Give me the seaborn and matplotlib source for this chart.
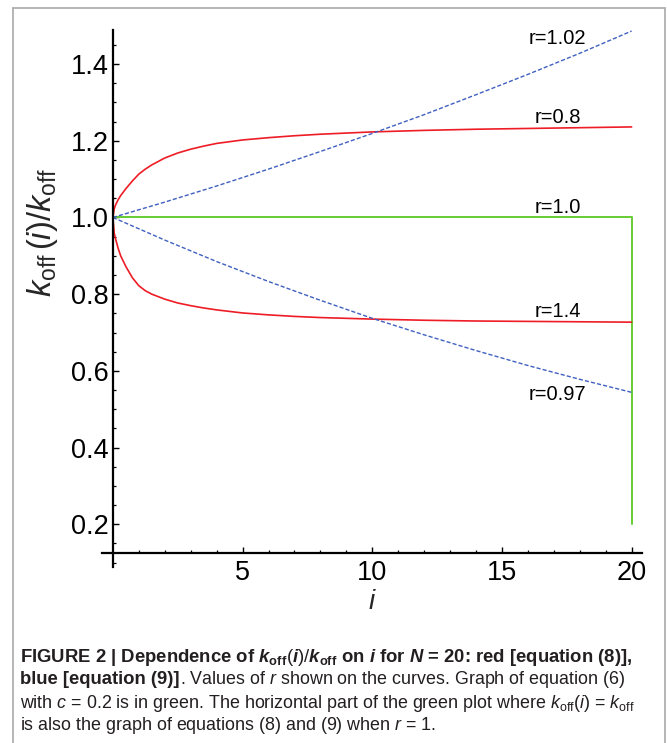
import numpy as np
import pandas as pd
import matplotlib
matplotlib.use('Agg')
import matplotlib.pyplot as plt
from matplotlib.ticker import MultipleLocator, FixedLocator
from matplotlib.lines import Line2D
import seaborn as sns

# curve values (N = 20)
i_blue = [0, 2, 4, 6, 8, 10, 12, 14, 16, 18, 20]
blue_102 = [1.0, 1.040, 1.082, 1.126, 1.172, 1.219, 1.268, 1.320, 1.373, 1.428, 1.486]
blue_097 = [1.0, 0.941, 0.885, 0.833, 0.784, 0.737, 0.694, 0.653, 0.614, 0.578, 0.544]

i_red = [0, 0.05, 0.1, 0.2, 0.3, 0.5, 0.75, 1, 1.25, 1.5, 2, 2.5, 3, 3.5, 4, 5, 6,
         7, 8, 10, 12, 14, 16, 18, 20]
red_08 = [1.0, 1.022, 1.032, 1.046, 1.057, 1.075, 1.095, 1.113, 1.126, 1.137, 1.155,
          1.168, 1.178, 1.186, 1.193, 1.202, 1.208, 1.213, 1.217, 1.223, 1.227, 1.230,
          1.232, 1.234, 1.236]
red_14 = [1.0, 0.960, 0.945, 0.920, 0.900, 0.872, 0.843, 0.822, 0.809, 0.800, 0.787,
          0.777, 0.770, 0.764, 0.759, 0.751, 0.746, 0.742, 0.739, 0.735, 0.732, 0.730,
          0.729, 0.728, 0.727]

i_green = [0, 20, 20]
green_c02 = [1.0, 1.0, 0.2]

labels = ['r=1.02', 'r=0.8', 'r=1.0', 'r=1.4', 'r=0.97']
label_y = [1.467, 1.261, 1.026, 0.755, 0.538]
label_i = 17.15

sns.set_theme(style='white')
plt.rcParams['font.family'] = ['Liberation Sans', 'DejaVu Sans']
plt.rcParams['mathtext.fontset'] = 'custom'
plt.rcParams['mathtext.rm'] = 'Liberation Sans'
plt.rcParams['mathtext.it'] = 'Liberation Sans:italic'
plt.rcParams['mathtext.bf'] = 'Liberation Sans:bold'
plt.rcParams['mathtext.bfit'] = 'Liberation Sans:bold:italic'

W, H = 667, 743
fig = plt.figure(figsize=(W / 100, H / 100), dpi=100)
fig.patch.set_facecolor('white')

# axes box in pixels
ax = fig.add_axes([102 / W, (H - 566.5) / H, 540 / W, 537 / H])
ax.set_facecolor('white')

sns.lineplot(x=i_green, y=green_c02, ax=ax, color='#66cc33', lw=1.4, sort=False,
             estimator=None)
sns.lineplot(x=i_red, y=red_08, ax=ax, color='#ee1c25', lw=1.2, estimator=None)
sns.lineplot(x=i_red, y=red_14, ax=ax, color='#ee1c25', lw=1.2, estimator=None)
sns.lineplot(x=i_blue, y=blue_102, ax=ax, color='#4060c0', lw=1.0, estimator=None,
             linestyle=(0, (3, 1.5)))
sns.lineplot(x=i_blue, y=blue_097, ax=ax, color='#4060c0', lw=1.0, estimator=None,
             linestyle=(0, (3, 1.5)))

for lab, yy in zip(labels, label_y):
    ax.text(label_i, yy, lab, ha='center', va='center', fontsize=14.5, color='black')

ax.set_xlim(-0.42, 20.4)
ax.set_ylim(0.09, 1.49)

for s in ['top', 'right']:
    ax.spines[s].set_visible(False)
ax.spines['left'].set_position(('data', 0))
ax.spines['bottom'].set_position(('data', 0.125))
for s in ['left', 'bottom']:
    ax.spines[s].set_linewidth(1.6)
    ax.spines[s].set_color('black')

ax.set_xticks([5, 10, 15, 20])
ax.xaxis.set_minor_locator(FixedLocator([k for k in range(1, 21) if k % 5]))
ax.set_yticks([0.2, 0.4, 0.6, 0.8, 1.0, 1.2, 1.4])
ax.yaxis.set_minor_locator(MultipleLocator(0.05))
ax.tick_params(which='major', direction='in', length=4.5, width=1.0, color='black',
               labelsize=19.5, labelcolor='black')
ax.tick_params(which='minor', direction='in', length=2.5, width=0.9, color='black')
ax.tick_params(axis='y', which='both', left=True, pad=3)
ax.tick_params(axis='x', which='both', bottom=True, pad=5)
ax.set_xlabel('')
ax.set_ylabel('')

fig.text(372 / W, 1 - 602 / H, '$i$', ha='center', va='center', fontsize=20)
fig.text(42 / W, 1 - 232 / H, r'$k_{\mathrm{off}}\,(i)/k_{\mathrm{off}}$', ha='center',
         va='center', rotation=90, fontsize=23.5)

# gray frame
fc = '#b0b0b0'
fig.add_artist(Line2D([13 / W, 13 / W], [0, 1 - 8 / H], transform=fig.transFigure,
                      color=fc, lw=1.3))
fig.add_artist(Line2D([665 / W, 665 / W], [0, 1 - 8 / H], transform=fig.transFigure,
                      color=fc, lw=1.3))
fig.add_artist(Line2D([13 / W, 665 / W], [1 - 8 / H, 1 - 8 / H],
                      transform=fig.transFigure, color=fc, lw=1.3))

# caption
cs = 13.3
cr = 12.9
cx = 20 / W
l1 = (r'FIGURE 2 | Dependence of $\mathbfit{k}_{\mathbf{off}}(\mathbfit{i})/'
      r'\mathbfit{k}_{\mathbf{off}}$ on $\mathbfit{i}$ for $\mathbfit{N}$ = 20: '
      r'red [equation (8)],')
fig.text(cx, 1 - 657 / H, l1, fontsize=cs, fontweight='bold', va='center', color='#231f20')
b2 = fig.text(cx, 1 - 680 / H, 'blue [equation (9)]', fontsize=cs, fontweight='bold',
              va='center', color='#231f20')
r = fig.canvas.get_renderer()
bb = b2.get_window_extent(renderer=r)
fig.text(bb.x1 / W, 1 - 680 / H,
         '. Values of $r$ shown on the curves. Graph of equation (6)',
         fontsize=cr, va='center', color='#231f20')
fig.text(cx, 1 - 703 / H,
         r'with $c$ = 0.2 is in green. The horizontal part of the green plot where '
         r'$k_{\mathrm{off}}(i)$ = $k_{\mathrm{off}}$',
         fontsize=cr, va='center', color='#231f20')
fig.text(cx, 1 - 726 / H, 'is also the graph of equations (8) and (9) when $r$ = 1.',
         fontsize=cr, va='center', color='#231f20')

fig.savefig('out.png', dpi=100)
